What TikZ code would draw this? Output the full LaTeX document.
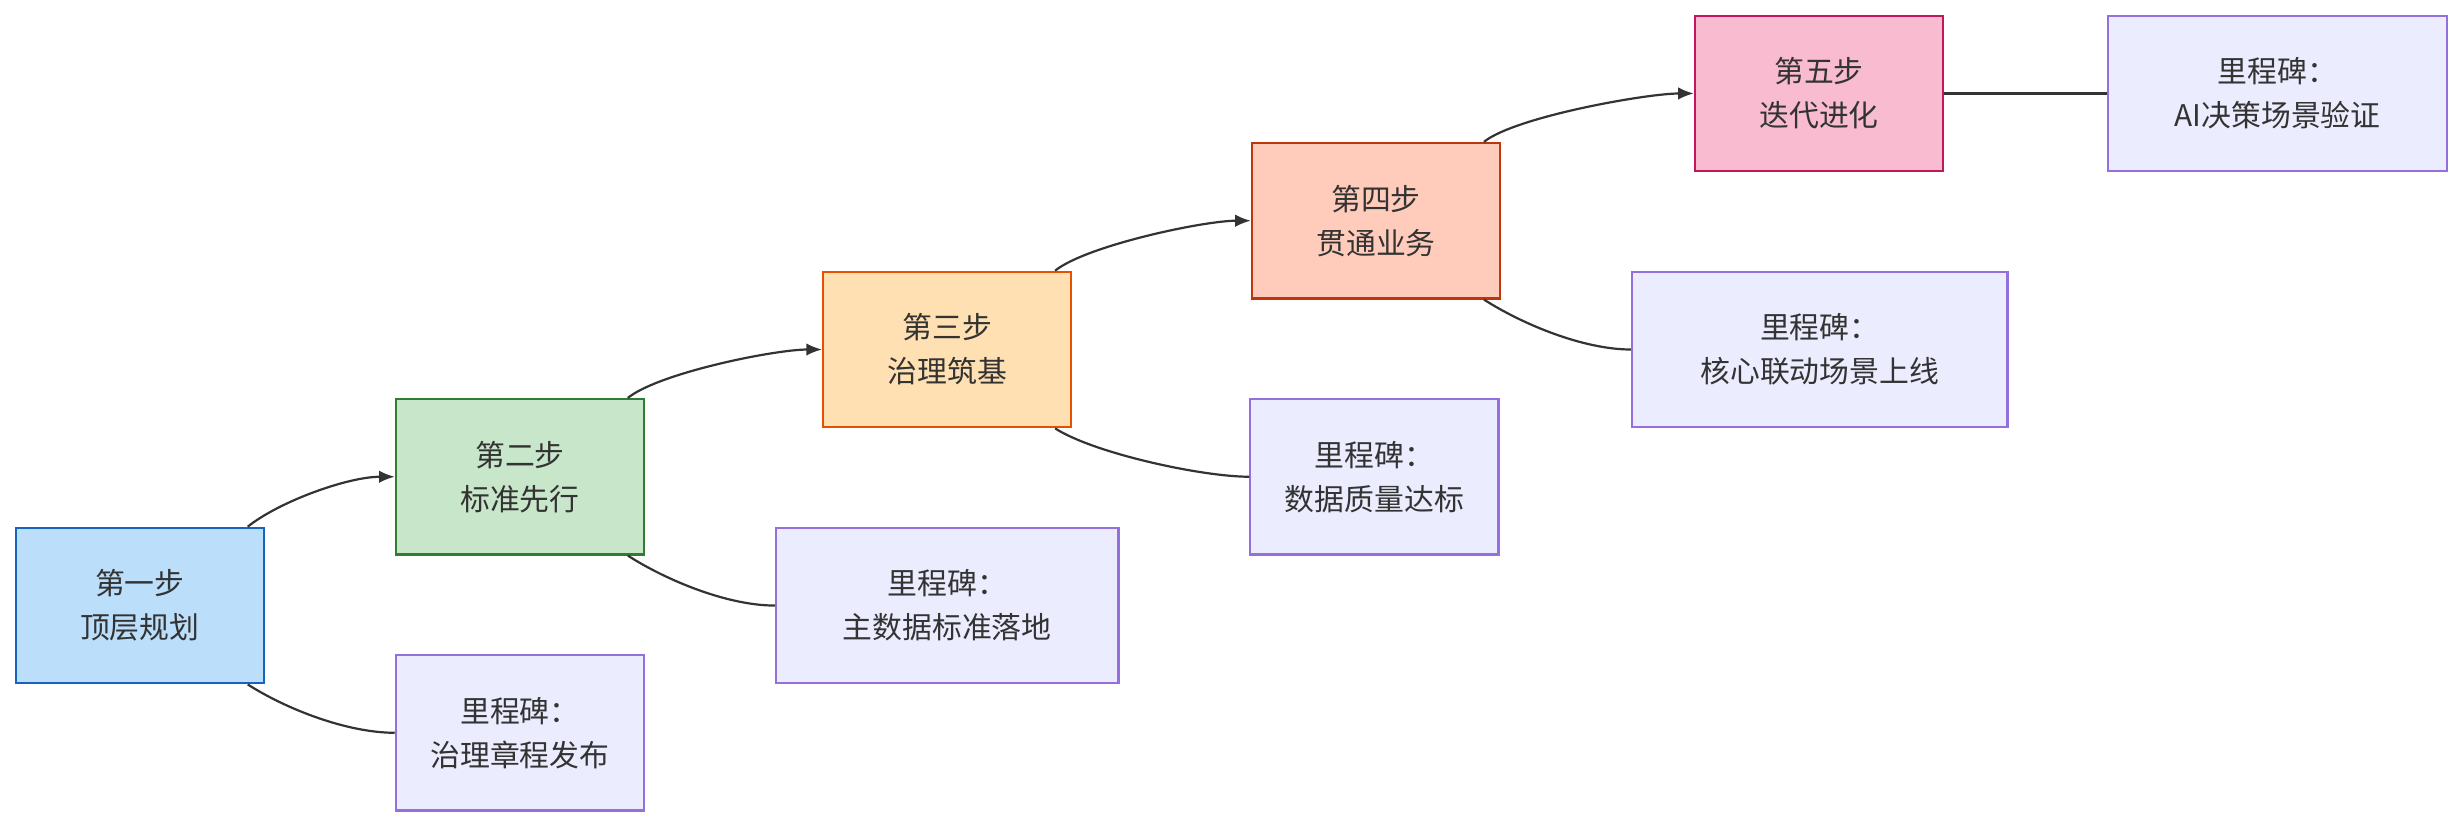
\documentclass[tikz,border=0pt]{standalone}
\usepackage{fontspec}
\setmainfont{Noto Sans CJK SC}
\begin{document}
\begin{tikzpicture}[x=0.5pt,y=-0.5pt,
 box/.style={draw,line width=0.7pt,minimum width=79pt,minimum height=49.5pt,inner sep=0pt,align=center,font=\fontsize{9.5pt}{14pt}\selectfont,text=black!80},
 ms/.style={box,fill=msf,draw=msd},
 con/.style={draw=black!80,line width=0.7pt},
 arr/.style={con,-{Latex[length=5pt,width=4pt]}}]
\usetikzlibrary{arrows.meta}
\definecolor{msf}{HTML}{ECECFF}\definecolor{msd}{HTML}{9370DB}
\useasboundingbox (0,0) rectangle (1568,527);
\node[box,fill={rgb,255:red,187;green,222;blue,251},draw={rgb,255:red,21;green,101;blue,192}] (s1) at (89,385.5) {第一步\\顶层规划};
\node[box,fill={rgb,255:red,200;green,230;blue,201},draw={rgb,255:red,46;green,125;blue,50}] (s2) at (331,303.5) {第二步\\标准先行};
\node[box,fill={rgb,255:red,255;green,224;blue,178},draw={rgb,255:red,230;green,81;blue,0}] (s3) at (603,222.5) {第三步\\治理筑基};
\node[box,fill={rgb,255:red,255;green,204;blue,188},draw={rgb,255:red,191;green,54;blue,12}] (s4) at (876,140.5) {第四步\\贯通业务};
\node[box,fill={rgb,255:red,248;green,187;blue,208},draw={rgb,255:red,194;green,24;blue,91}] (s5) at (1158,59.5) {第五步\\迭代进化};
\node[ms] (m1) at (331,466.5) {里程碑：\\治理章程发布};
\node[ms,minimum width=109pt] (m2) at (603,385.5) {里程碑：\\主数据标准落地};
\node[ms] (m3) at (875,303.5) {里程碑：\\数据质量达标};
\node[ms,minimum width=119.5pt] (m4) at (1158.5,222.5) {里程碑：\\核心联动场景上线};
\node[ms,minimum width=108pt] (m5) at (1450,59.5) {里程碑：\\AI决策场景验证};
\foreach \a/\b in {s1/s2,s2/s3,s3/s4,s4/s5}{
 \draw[arr] ([xshift=-5.5pt]\a.north east) .. controls +(20,-16) and +(-30,0) .. ([yshift=0pt]\b.west);
 }
\foreach \a/\b in {s1/m1,s2/m2,s3/m3,s4/m4}{
 \draw[con] ([xshift=-5.5pt]\a.south east) .. controls +(25,16) and +(-30,0) .. (\b.west);
 }
\draw[con] (s5.east) -- (m5.west);
\end{tikzpicture}
\end{document}
